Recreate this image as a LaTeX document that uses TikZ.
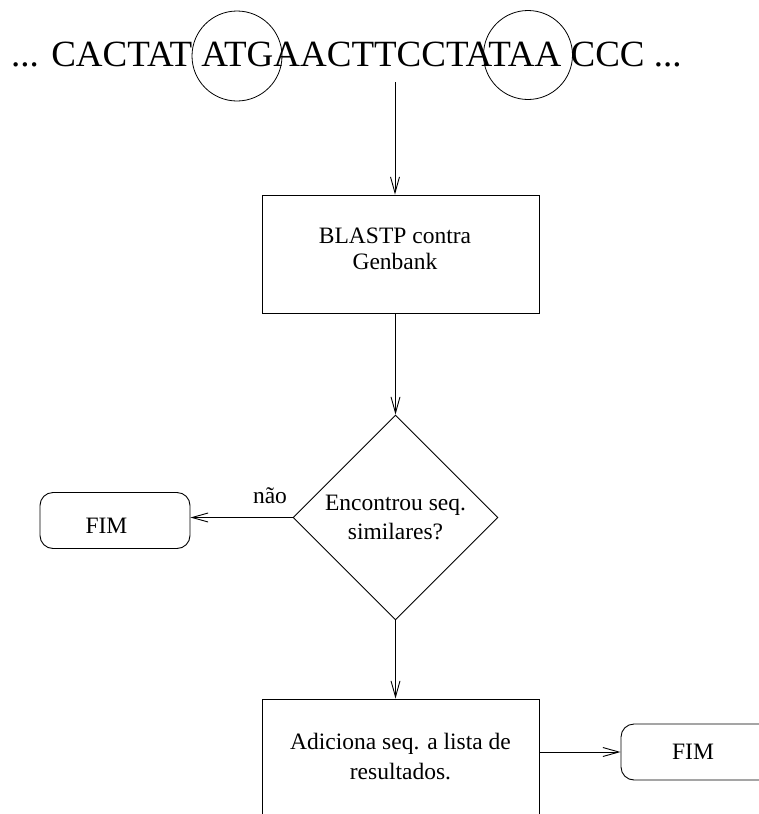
\documentclass[tikz,border=0pt]{standalone}
\usepackage{fontspec}
\setmainfont{Liberation Serif}
\usetikzlibrary{shapes.geometric,arrows.meta}
\begin{document}
\begin{tikzpicture}[x=1pt,y=-1pt,
  flow/.style={draw, line width=0.9pt, -{Straight Barb[length=16pt,width=9pt,line width=0.9pt]}},
  procbox/.style={draw, rectangle, line width=0.9pt, inner sep=0pt, align=center},
  decision/.style={draw, diamond, line width=0.9pt, inner sep=0pt, align=center,
    minimum width=205pt, minimum height=205pt, font=\fontsize{23.5}{29}\selectfont},
  endbox/.style={draw, rectangle, rounded corners=13pt, line width=0.9pt, inner sep=0pt,
    minimum height=56pt},
  every label/.style={font=\fontsize{23.5}{26}\selectfont, inner sep=0pt},
  ring/.style={draw, line width=0.8pt}
]
\clip (0,0) rectangle (759,814);

% DNA sequence with start and stop codons circled
\node[anchor=base west, inner sep=0pt, font=\fontsize{37}{40}\selectfont] (seq) at (11,66.5)
  {... CACTAT ATGAACTTCCTATAA CCC ...};
\draw[ring] (237,56) circle (45);
\draw[ring] (528,55) circle (44.5);
\coordinate (seqout) at (395,82);

% flowchart
\node[procbox, minimum width=277pt, minimum height=118pt,
  label={[align=center, xshift=-5.5pt, yshift=5pt]center:BLASTP contra\\Genbank}]
  (blast) at (400.5,254) {};
\node[decision] (found) at (395.5,517.5) {Encontrou seq.\\similares?};
\node[endbox, minimum width=150pt, label={[xshift=-8.5pt, yshift=-5pt]center:FIM}]
  (endL) at (115,520.5) {};
\node[procbox, minimum width=277pt, minimum height=116pt, font=\fontsize{23.5}{30}\selectfont]
  (add) at (400.5,757) {Adiciona seq. a lista de\\resultados.};
\node[endbox, minimum width=164pt, label={[xshift=-10pt]center:FIM}] (endR) at (703,752) {};

\draw[flow] (seqout) -- (seqout |- blast.north);
\draw[flow] (blast.south -| found.north) -- (found.north);
\draw[flow] (found.west) -- (found.west -| endL.east);
\node[anchor=base, inner sep=0pt, font=\fontsize{23.5}{26}\selectfont] (nao) at (270,503) {não};
\draw[flow] (found.south) -- (found.south |- add.north);
\draw[flow] (add.east |- endR.west) -- (endR.west);
\end{tikzpicture}
\end{document}
